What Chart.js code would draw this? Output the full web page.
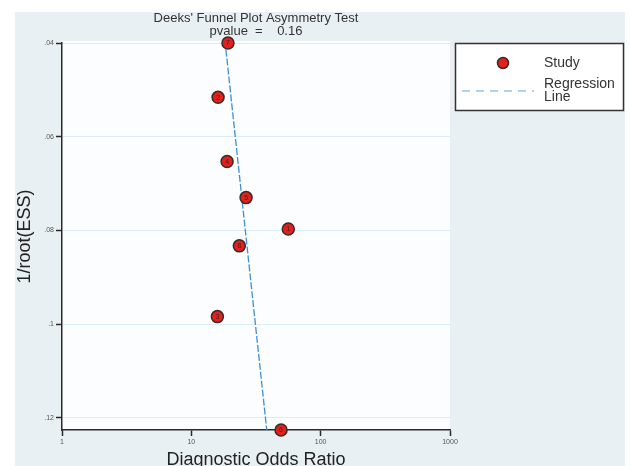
<!DOCTYPE html>
<html>
<head>
<meta charset="utf-8">
<script src="https://cdn.jsdelivr.net/npm/chart.js@4.4.1/dist/chart.umd.min.js"></script>
<style>
html,body{margin:0;padding:0;background:#ffffff;}
#wrap{width:630px;height:466px;position:relative;}
</style>
</head>
<body>
<div id="wrap"><canvas id="c" width="630" height="466"></canvas></div>
<script>
// ---- data ----
const studyLabels = ['7', '2', '4', '5', '1', '8', '3', '6'];
const studyDOR    = [19.2, 16.1, 18.9, 26.5, 56.2, 23.5, 15.9, 49.4];
const studyInvESS = [0.0400, 0.0516, 0.0653, 0.0730, 0.0797, 0.0833, 0.0984, 0.1226];
const regDOR      = [18.2, 38.3];
const regInvESS   = [0.0395, 0.1226];
const yTicks = [0.04, 0.06, 0.08, 0.10, 0.12];
const xTicks = [1, 10, 100, 1000];
const titleLines = ["Deeks' Funnel Plot Asymmetry Test", "pvalue  =    0.16"];
const legendStudy = 'Study';
const legendReg = ['Regression', 'Line'];

const FONT = '"Liberation Sans", Arial, sans-serif';

const bgPlugin = {
  id: 'bg',
  beforeDraw(chart) {
    const ctx = chart.ctx, a = chart.chartArea;
    ctx.save();
    ctx.fillStyle = '#ffffff';
    ctx.fillRect(0, 0, chart.width, chart.height);
    ctx.fillStyle = '#e9f0f3';
    ctx.fillRect(15, 12, 610, chart.height - 12);
    ctx.fillStyle = '#fcfdfe';
    ctx.fillRect(a.left, a.top - 2, a.right - a.left, a.bottom - a.top + 2);
    ctx.restore();
  },
  afterDatasetsDraw(chart) {
    const ctx = chart.ctx, a = chart.chartArea;
    const meta = chart.getDatasetMeta(1);
    ctx.save();
    ctx.font = '7px ' + FONT;
    ctx.fillStyle = '#4a2020';
    ctx.textAlign = 'center';
    ctx.textBaseline = 'middle';
    meta.data.forEach((p, i) => ctx.fillText(studyLabels[i], p.x, p.y + 0.5));
    // title
    const cx = (a.left + a.right) / 2;
    ctx.font = '13px ' + FONT;
    ctx.fillStyle = '#333333';
    ctx.fillText(titleLines[0], cx, 18);
    ctx.fillText(titleLines[1], cx, 31);
    // legend
    ctx.fillStyle = '#ffffff';
    ctx.fillRect(455, 43, 169, 68);
    ctx.strokeStyle = '#333333';
    ctx.lineWidth = 1.5;
    ctx.strokeRect(455.5, 43.5, 168, 67);
    ctx.beginPath();
    ctx.arc(503, 63, 5.5, 0, Math.PI * 2);
    ctx.fillStyle = '#e3201b';
    ctx.fill();
    ctx.lineWidth = 1.5;
    ctx.strokeStyle = '#3a2a2a';
    ctx.stroke();
    ctx.beginPath();
    ctx.setLineDash([8, 6]);
    ctx.strokeStyle = '#5aa9e2';
    ctx.lineWidth = 1.2;
    ctx.moveTo(462, 91); ctx.lineTo(534, 91);
    ctx.stroke();
    ctx.setLineDash([]);
    ctx.font = '14px ' + FONT;
    ctx.fillStyle = '#333333';
    ctx.textAlign = 'left';
    ctx.fillText(legendStudy, 544, 63);
    ctx.fillText(legendReg[0], 544, 84);
    ctx.fillText(legendReg[1], 544, 97.5);
    ctx.restore();
  }
};

new Chart(document.getElementById('c'), {
  type: 'scatter',
  data: {
    datasets: [
      {
        type: 'line',
        label: legendReg.join(' '),
        data: regDOR.map((x, i) => ({x: x, y: regInvESS[i]})),
        borderColor: '#3f8fd2',
        borderWidth: 1.3,
        borderDash: [7, 2],
        pointRadius: 0,
        fill: false,
        clip: false,
        order: 2
      },
      {
        label: legendStudy,
        data: studyDOR.map((x, i) => ({x: x, y: studyInvESS[i]})),
        backgroundColor: '#e3201b',
        borderColor: '#3a2a2a',
        borderWidth: 1.5,
        pointRadius: 6,
        pointHoverRadius: 6,
        clip: false,
        order: 1
      }
    ]
  },
  options: {
    responsive: false,
    animation: false,
    events: [],
    layout: { padding: { left: 0, right: 180, top: 43, bottom: 0 } },
    plugins: { legend: { display: false }, title: { display: false }, tooltip: { enabled: false } },
    scales: {
      x: {
        type: 'logarithmic',
        min: 1, max: 1000,
        afterBuildTicks(s) { s.ticks = xTicks.map(v => ({value: v})); },
        afterFit(s) { s.height = 36; },
        ticks: {
          autoSkip: false, maxRotation: 0,
          font: { size: 7, family: FONT }, color: '#555555', padding: 2,
          callback: (v) => String(v)
        },
        grid: { drawOnChartArea: false, tickLength: 6, tickColor: '#2a2a2a', tickWidth: 1.5 },
        border: { color: '#2a2a2a', width: 1.5 },
        title: { display: true, text: 'Diagnostic Odds Ratio', font: { size: 18, family: FONT }, color: '#222222', padding: { top: 0, bottom: -5 } }
      },
      y: {
        type: 'linear',
        reverse: true,
        min: 0.04, max: 0.1226,
        afterBuildTicks(s) { s.ticks = yTicks.map(v => ({value: v})); },
        afterFit(s) { s.width = 62; },
        ticks: {
          font: { size: 7, family: FONT }, color: '#555555', padding: 2,
          callback: (v) => String(+v.toFixed(2)).replace(/^0/, '')
        },
        grid: { color: '#d9edf6', lineWidth: 1, tickLength: 6, tickColor: '#2a2a2a', tickWidth: 1.5 },
        border: { color: '#2a2a2a', width: 1.5 },
        title: { display: true, text: '1/root(ESS)', font: { size: 18, family: FONT }, color: '#222222', padding: { top: 14, bottom: 8 } }
      }
    }
  },
  plugins: [bgPlugin]
});
</script>
</body>
</html>
